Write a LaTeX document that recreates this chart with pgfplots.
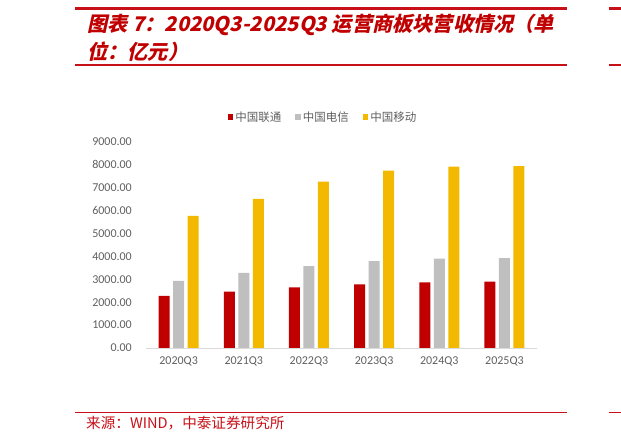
\documentclass[border=0pt]{standalone}
\usepackage{pgfplots}
\pgfplotsset{compat=1.18}
\usepackage{fontspec}
\setmainfont{Carlito}
\newfontfamily\cjk{Noto Sans CJK SC}
\newfontfamily\cjktitle{Noto Sans CJK SC}[FakeSlant=0.22]

\definecolor{titlered}{RGB}{192,0,0}
\definecolor{linered}{RGB}{200,16,24}
\definecolor{unicom}{RGB}{192,0,0}
\definecolor{telecom}{RGB}{191,191,191}
\definecolor{mobile}{RGB}{242,185,0}
\definecolor{labgray}{RGB}{95,95,95}
\definecolor{axisgray}{RGB}{217,217,217}

\begin{document}
\begin{tikzpicture}
\path[use as bounding box] (0pt,0pt) rectangle (621pt,443pt);

% header / footer rules
\draw[linered, line width=2.7pt] (75pt,434.3pt) -- (567pt,434.3pt);
\draw[linered, line width=1.2pt] (75pt,378pt) -- (567pt,378pt);
\draw[linered, line width=1.4pt] (75pt,30.7pt) -- (567pt,30.7pt);
\draw[linered, line width=2.7pt] (609pt,434.3pt) -- (621pt,434.3pt);
\draw[linered, line width=1.2pt] (609pt,378pt) -- (621pt,378pt);
\draw[linered, line width=1.4pt] (609pt,30.7pt) -- (621pt,30.7pt);

\node[anchor=west, inner sep=0pt, text=titlered, font=\cjktitle\bfseries\fontsize{20.2}{24}\selectfont]
  at (87pt,418pt) {图表 7：2020Q3-2025Q3 运营商板块营收情况（单};
\node[anchor=west, inner sep=0pt, text=titlered, font=\cjktitle\bfseries\fontsize{20.2}{24}\selectfont]
  at (87pt,391pt) {位：亿元）};
\node[anchor=west, inner sep=0pt, text=linered, font=\cjk\fontsize{14.6}{16}\selectfont]
  at (86pt,19.5pt) {来源：WIND，中泰证券研究所};

\begin{axis}[
    at={(146pt,95pt)}, anchor=south west,
    scale only axis, width=391pt, height=206pt,
    xmin=-0.5, xmax=5.5, ymin=0, ymax=9000,
    enlargelimits=false, clip=false,
    ybar=3.5pt, bar width=11pt,
    axis x line*=bottom, axis y line*=left,
    x axis line style={draw=axisgray, line width=0.8pt, -},
    y axis line style={draw=none},
    major tick length=0pt,
    xtick={0,...,5},
    xticklabels={2020Q3,2021Q3,2022Q3,2023Q3,2024Q3,2025Q3},
    ytick={0,1000,...,9000},
    /pgf/number format/fixed,
    /pgf/number format/fixed zerofill,
    /pgf/number format/precision=2,
    /pgf/number format/1000 sep={},
    /pgf/number format/assume math mode=true,
    tick label style={font=\fontsize{12}{12}\selectfont, text=labgray},
    yticklabel style={anchor=east, inner sep=0pt, xshift=-14pt},
    xticklabel style={anchor=north, inner sep=0pt, yshift=-9pt},
    legend style={at={(0.453,1.121)}, anchor=center, draw=none, fill=none,
        legend columns=3, text=labgray,
        font=\cjk\fontsize{11.5}{12}\selectfont,
        /tikz/every even column/.append style={column sep=12pt}},
    legend image code/.code={\fill[#1] (0pt,-2.5pt) rectangle (5.5pt,3pt);},
]
\addplot[fill=unicom, draw=none] coordinates {
    (0,2280) (1,2460) (2,2650) (3,2780) (4,2870) (5,2900)};
\addlegendentry{中国联通}
\addplot[fill=telecom, draw=none] coordinates {
    (0,2930) (1,3280) (2,3580) (3,3800) (4,3900) (5,3930)};
\addlegendentry{中国电信}
\addplot[fill=mobile, draw=none] coordinates {
    (0,5770) (1,6510) (2,7270) (3,7750) (4,7920) (5,7950)};
\addlegendentry{中国移动}
\end{axis}
\end{tikzpicture}
\end{document}
